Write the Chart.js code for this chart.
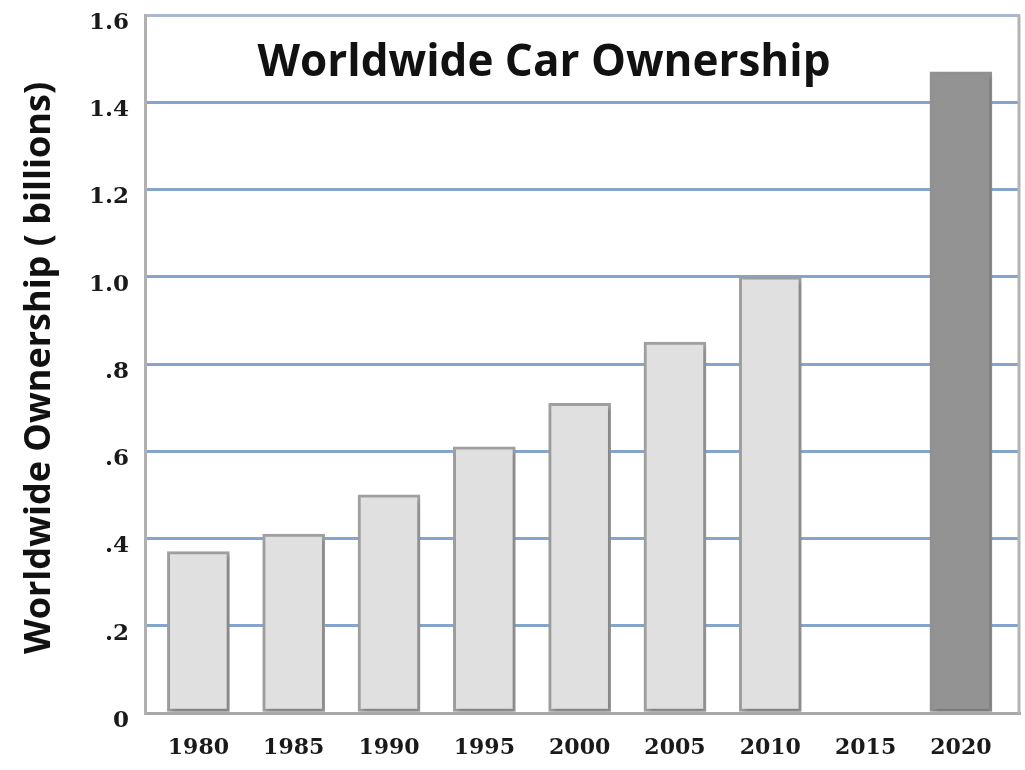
<!DOCTYPE html>
<html>
<head>
<meta charset="utf-8">
<script src="https://cdn.jsdelivr.net/npm/chart.js@4/dist/chart.umd.min.js"></script>
<style>
  html, body { margin: 0; padding: 0; background: #fff; }
  #wrap { width: 1025px; height: 770px; }
</style>
</head>
<body>
<div id="wrap"><canvas id="c" width="1025" height="770"></canvas></div>
<script>
'use strict';

// ── DATA ──────────────────────────────────────────────────────────────────────
const YEARS      = [1980, 1985, 1990, 1995, 2000, 2005, 2010, 2015, 2020];
const OWNERSHIP  = [0.37, 0.41, 0.50, 0.61, 0.71, 0.85, 1.00, null, 1.47];  // billions
const Y_TICKS    = [0, 0.2, 0.4, 0.6, 0.8, 1.0, 1.2, 1.4, 1.6];
const Y_LABELS   = ['0', '.2', '.4', '.6', '.8', '1.0', '1.2', '1.4', '1.6'];
const TITLE      = 'Worldwide Car Ownership';
const Y_TITLE    = 'Worldwide Ownership ( billions)';

const FILL_PAST  = '#e0e0e0';
const FILL_PROJ  = '#939393';

// ── PLUGINS ───────────────────────────────────────────────────────────────────
const barShadow = {
  id: 'barShadow',
  beforeDatasetsDraw(chart) {
    const ctx = chart.ctx;
    ctx.save();
    ctx.shadowColor = 'rgba(0,0,0,0.22)';
    ctx.shadowBlur = 5;
    ctx.shadowOffsetX = 2;
    ctx.shadowOffsetY = 3;
  },
  afterDatasetsDraw(chart) { chart.ctx.restore(); },
};

const frameAndTitle = {
  id: 'frameAndTitle',
  afterDraw(chart) {
    const { ctx, chartArea: a } = chart;
    ctx.save();
    // right frame edge
    ctx.strokeStyle = '#b4b4b4';
    ctx.lineWidth = 3;
    ctx.beginPath();
    ctx.moveTo(a.right - 1, a.top);
    ctx.lineTo(a.right - 1, a.bottom);
    ctx.stroke();
    // title inside the plot
    ctx.fillStyle = '#111';
    ctx.font = 'bold 44px "Open Sans", sans-serif';
    ctx.textAlign = 'center';
    ctx.textBaseline = 'middle';
    ctx.fillText(TITLE, 544, 63);
    // rotated y title
    ctx.translate(40, 368);
    ctx.rotate(-Math.PI / 2);
    ctx.font = 'bold 36px "Open Sans", sans-serif';
    ctx.fillText(Y_TITLE, 0, 0);
    ctx.restore();
  },
};

// ── CHART ─────────────────────────────────────────────────────────────────────
const points = YEARS.map((yr, i) => ({ x: yr, y: OWNERSHIP[i] }));

new Chart(document.getElementById('c'), {
  type: 'bar',
  data: {
    datasets: [{
      data: points,
      backgroundColor: YEARS.map(yr => (yr === 2020 ? FILL_PROJ : FILL_PAST)),
      borderColor: YEARS.map(yr => (yr === 2020 ? FILL_PROJ : '#a0a0a0')),
      borderWidth: 3,
      borderSkipped: false,
      barThickness: 62,
    }],
  },
  options: {
    responsive: false,
    animation: false,
    layout: { padding: { top: 15, right: 5, left: 0, bottom: 0 } },
    plugins: {
      legend: { display: false },
      tooltip: { enabled: false },
    },
    scales: {
      x: {
        type: 'linear',
        offset: false,
        min: 1977.2,
        max: 2023.1,
        afterBuildTicks: scale => { scale.ticks = YEARS.map(v => ({ value: v })); },
        afterFit: scale => { scale.height = 57; scale.paddingLeft = 0; scale.paddingRight = 0; },
        ticks: {
          callback: v => String(v),
          color: '#1a1a1a',
          padding: 22,
          maxRotation: 0,
          autoSkip: false,
          font: { family: '"DejaVu Serif", serif', weight: 'bold', size: 22 },
        },
        grid: { display: false, drawTicks: false },
        border: { display: true, color: '#a8a8a8', width: 3 },
      },
      y: {
        min: 0,
        max: 1.6,
        afterBuildTicks: scale => { scale.ticks = Y_TICKS.map(v => ({ value: v })); },
        afterFit: scale => { scale.width = 145; scale.paddingTop = 0; scale.paddingBottom = 0; },
        ticks: {
          callback: (v, i) => Y_LABELS[i],
          color: '#1a1a1a',
          padding: 16,
          labelOffset: 8,
          font: { family: '"DejaVu Serif", serif', weight: 'bold', size: 23 },
        },
        grid: {
          drawTicks: false,
          lineWidth: 3,
          color: ctx => (ctx.tick && ctx.tick.value === 0 ? '#a8a8a8'
                        : ctx.tick && ctx.tick.value === 1.6 ? '#a9bad0' : '#86a5cc'),
        },
        border: { display: true, color: '#b0b0b0', width: 3 },
      },
    },
  },
  plugins: [barShadow, frameAndTitle],
});
</script>
</body>
</html>
